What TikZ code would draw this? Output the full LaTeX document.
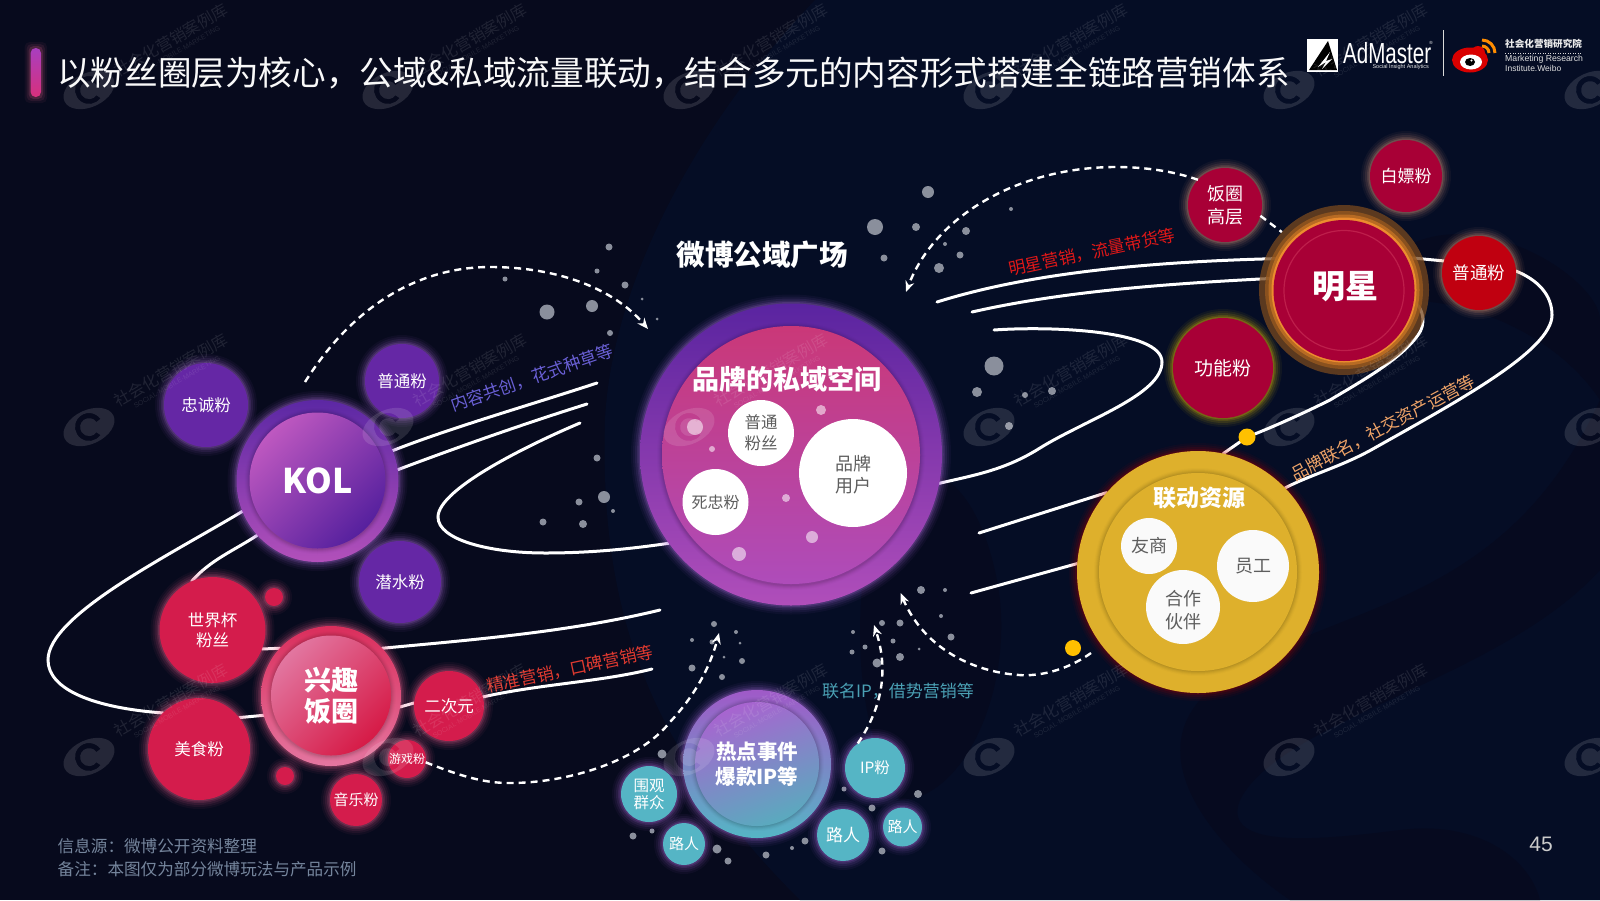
\documentclass[tikz,border=0pt]{standalone}
\usepackage{fontspec}
\setmainfont{Noto Sans CJK SC}
\newfontfamily\lat{Liberation Sans}
\usetikzlibrary{arrows.meta,shapes.geometric}
\pgfdeclarelayer{back}\pgfdeclarelayer{lines}\pgfsetlayers{back,lines,main}
\newcommand\fs[2]{\fontsize{#1}{#2}\selectfont}
\newcommand\glow[4]{\foreach \k/\o in {9/0.05,7/0.07,5/0.10,3/0.14,1.5/0.2}{\fill[#4,opacity=\o] (#1,#2) circle[radius={#3+\k}];}}
\newcommand\soft[3]{\foreach \k/\o in {5/0.015,4/0.025,3/0.035,2/0.045,1/0.055}{\fill[black,opacity=\o] (#1,#2) circle[radius={#3+\k}];}}
\definecolor{bgl}{HTML}{070A1D}
\definecolor{bgr}{HTML}{050D25}
\definecolor{bgd}{HTML}{060A1F}
\definecolor{pp}{HTML}{6527A5}
\definecolor{ppglow}{HTML}{A868D8}
\definecolor{rd}{HTML}{D41C4C}
\definecolor{rdglow}{HTML}{E8608C}
\definecolor{cr}{HTML}{A80036}
\definecolor{crglow}{HTML}{E8A080}
\definecolor{tl}{HTML}{55B5C5}
\definecolor{gd}{HTML}{DEB02C}
\definecolor{dotc}{HTML}{8A8F9C}
\definecolor{lblgrey}{HTML}{5E5E5E}
\definecolor{foot}{HTML}{75859C}
\definecolor{bart}{HTML}{A83EBF}
\definecolor{barb}{HTML}{D8307C}
\definecolor{kolot}{HTML}{5C28A4}
\definecolor{kolob}{HTML}{B250BA}
\definecolor{kolit}{HTML}{BE58C0}
\definecolor{kolib}{HTML}{56209E}
\definecolor{xqot}{HTML}{DA2E5C}
\definecolor{xqob}{HTML}{E476A0}
\definecolor{xqit}{HTML}{E276A0}
\definecolor{xqib}{HTML}{D61A46}
\definecolor{hubot}{HTML}{5A24A0}
\definecolor{huboba}{HTML}{B04EBA}
\definecolor{hubit}{HTML}{CA3878}
\definecolor{hubib}{HTML}{AE4CBA}
\definecolor{ptred}{HTML}{C00010}
\definecolor{halo}{HTML}{78481E}
\definecolor{haloa}{HTML}{96581E}
\definecolor{halob}{HTML}{BE6E24}
\definecolor{haloc}{HTML}{EC8C2E}
\definecolor{ringc}{HTML}{BE1E4B}
\definecolor{amber}{HTML}{FFC000}
\definecolor{hotot}{HTML}{A05AC8}
\definecolor{hotit}{HTML}{A864D0}
\definecolor{hotib}{HTML}{5AAABE}
\definecolor{capa}{HTML}{6A60D6}
\definecolor{capb}{HTML}{E01818}
\definecolor{capc}{HTML}{F0A468}
\definecolor{capd}{HTML}{E03A30}
\definecolor{cape}{HTML}{4AA0B4}
\tikzset{
  bub/.style={circle,inner sep=0pt,outer sep=0pt,align=center,text=white},
  wbub/.style={bub,fill=white,text=lblgrey},
  gbub/.style={bub,fill=white!96!gray,text=lblgrey},
  inlabel/.style={inner sep=0pt,align=center,text=lblgrey},
  curve/.style={draw=white,line width=3pt,line cap=round},
  dashline/.style={draw=white,line width=2.4pt,dash pattern=on 7pt off 5pt},
  dasharrow/.style={dashline,-{Stealth[length=11pt,width=9pt]}},
  caption/.style={inner sep=0pt,font=\fs{17}{20}},
  markerdot/.style={circle,fill=#1,inner sep=0pt,outer sep=0pt},
  wm/.style={white,opacity=.12},
}
\begin{document}
\begin{tikzpicture}[x=1pt,y=-1pt]
\useasboundingbox (0,0) rectangle (1600,900);
\begin{pgfonlayer}{back}
\fill[bgl] (0,0) rectangle (1600,900);
\fill[bgr] (815,0) .. controls (700,120) and (612,280) .. (605,420) .. controls (600,600) and (640,740) .. (800,900) -- (1600,900) -- (1600,0) -- cycle;
\fill[bgd] (1600,570) .. controls (1500,680) and (1280,720) .. (1240,800) .. controls (1220,850) and (1320,840) .. (1400,830) .. controls (1480,820) and (1530,860) .. (1540,900) -- (1290,900) .. controls (1230,860) and (1130,760) .. (1210,690) .. controls (1320,600) and (1500,620) .. (1600,400) -- cycle;
\fill[bgd] (880,480) .. controls (860,560) and (840,700) .. (900,800) .. controls (960,800) and (1010,700) .. (1000,600) .. controls (990,520) and (950,440) .. (880,480) -- cycle;
\fill[bgd] (1400,250) .. controls (1480,200) and (1600,280) .. (1600,320) -- (1600,400) .. controls (1560,340) and (1480,300) .. (1400,300) -- cycle;
\end{pgfonlayer}

% grey dots
\foreach \dx/\dy/\dr in {609/247/3.5,597/271/2.5,625/285/3.5,505/279/2.5,642/299/1.5,547/312/7.5,592/306/6,657/319/1.5,610/333/3,
928/192/6,875/227/8,916/227/4,966/231/4,1011/209/2,884/258/3.5,945/244/2,960/255/3.5,939/268/5,994/366/9.5,977/392/5,1025/395/3,1052/391/4,1009/426/4,
597/458/3.5,579/502/3.5,604/497/6,613/511/2,543/522/3.5,583/524/4,
714/624/3,736/632/2,692/640/2,712/642/2.5,740/643/1.5,724/657/1.5,742/661/3,692/668/3.5,722/677/3,
662/754/4.5,633/836/3.5,652/831/2.5,717/849/4.5,728/861/3.5,766/855/3.5,792/848/2,
921/590/4,945/590/2,941/616/2,951/637/3.5,882/623/3,900/623/3.5,853/632/2,893/641/2.5,865/647/2.5,852/652/2.5,919/649/1.5,900/657/4,877/663/4.5,844/789/2.5,918/794/4,872/808/3.5,882/851/3.5,805/841/3.5}
{\fill[dotc] (\dx,\dy) circle[radius=\dr];}

% title
\foreach \g/\o in {6/.06,4/.10,2/.18}{\fill[rounded corners=5pt,fill=rdglow,opacity=\o] (30.6-\g,48-\g) rectangle (41+\g,97+\g);}
\node[rounded corners=5pt,minimum width=10.4pt,minimum height=49pt,inner sep=0pt,top color=bart,bottom color=barb] (bar) at (35.8,72.5) {};
\node[anchor=west,inner sep=0pt,text=white!95!gray,font=\fs{33.6}{36}] (title) at (57,73) {以粉丝圈层为核心，公域\&私域流量联动，结合多元的内容形式搭建全链路营销体系};

% logos
\fill[white] (1307,39) rectangle (1338,72);
\fill[black] (1328,41) -- (1337,70) -- (1309,70) -- cycle;
\fill[white] (1330,52) -- (1318,67) -- (1326,62) -- (1322,69) -- (1332,59) -- (1326,61) -- cycle;
\node[anchor=west,inner sep=0pt,text=white,xscale=.71,font=\lat\fs{29}{30}] (adm) at (1343,53) {AdMaster};
\node[inner sep=0pt,text=white,font=\lat\fs{4.5}{5}] (adr) at (1431,43) {®};
\node[anchor=east,inner sep=0pt,text=white!80!gray,font=\lat\fs{5.5}{6}] (ads) at (1429,67) {Social Insight Analytics};
\draw[white!70!gray,line width=.7pt] (1443,30) -- (1443,76);
\fill[red!85!black] (1470,60) ellipse[x radius=18,y radius=12.5];
\fill[red!85!black] (1478,53) circle[radius=7];
\fill[white] (1471,62) ellipse[x radius=11,y radius=7.5];
\fill[black] (1470,62) ellipse[x radius=5,y radius=4];
\fill[white] (1471.5,60.5) circle[radius=1.2];
\draw[orange!90!yellow,line width=3pt] (1482,46) arc[start angle=270,end angle=360,radius=7];
\draw[orange!90!yellow,line width=3pt] (1482,40) arc[start angle=270,end angle=360,radius=13];
\node[anchor=west,inner sep=0pt,text=white!85!gray,font=\bfseries\fs{9.6}{11}] (wb1) at (1505,44) {社会化营销研究院};
\draw[white!70!gray,line width=.5pt,dotted] (1505,53) -- (1582,53);
\node[anchor=west,inner sep=0pt,text=white!75!gray,font=\lat\fs{8.7}{10}] (wb2) at (1505,59.5) {Marketing Research};
\node[anchor=west,inner sep=0pt,text=white!75!gray,font=\lat\fs{8.5}{10}] (wb3) at (1505,68.5) {Institute.Weibo};

% left purple group
\glow{206}{405}{42}{ppglow}
\node[bub,minimum size=84pt,fill=pp,font=\fs{16.5}{20}] (zhong) at (206,405) {忠诚粉};
\glow{402}{381}{37}{ppglow}
\node[bub,minimum size=74pt,fill=pp,font=\fs{16.5}{20}] (ptf) at (402,381) {普通粉};
\glow{400}{582}{41}{ppglow}
\node[bub,minimum size=82pt,fill=pp,font=\fs{16.5}{20}] (qian) at (400,582) {潜水粉};
\glow{317.5}{481}{81}{ppglow}
\node[bub,minimum size=162pt,top color=kolot,bottom color=kolob] (kol) at (317.5,481) {};
\soft{317.5}{481}{68}
\node[bub,minimum size=136pt,top color=kolit,bottom color=kolib,shading angle=45,font=\bfseries\fs{34}{38}] (kolin) at (317.5,480.5) {KOL};

% red group
\foreach \gx/\gy/\gr in {212.5/630/53,199/749/51,449/706/35,407/759/19,356/800/26,274/597/9,285/776/9}{\glow{\gx}{\gy}{\gr}{rdglow}}
\node[bub,minimum size=106pt,fill=rd,font=\fs{16.5}{20}] (sjb) at (212.5,630) {世界杯\\粉丝};
\node[bub,minimum size=102pt,fill=rd,font=\fs{16.5}{20}] (meishi) at (199,749) {美食粉};
\node[bub,minimum size=70pt,fill=rd,font=\fs{16.5}{20}] (ciyuan) at (449,706) {二次元};
\node[bub,minimum size=52pt,fill=rd,font=\fs{15}{18}] (yinyue) at (356,800) {音乐粉};
\node[bub,minimum size=18pt,fill=rd] (rdot1) at (274,597) {};
\node[bub,minimum size=18pt,fill=rd] (rdot2) at (285,776) {};
\glow{331}{696}{70}{rdglow}
\node[bub,minimum size=140pt,top color=xqot,bottom color=xqob] (xq) at (331,696) {};
\soft{331}{696}{60}
\node[bub,minimum size=120pt,top color=xqit,bottom color=xqib,shading angle=45,font=\bfseries\fs{27}{31}] (xqin) at (331,695.5) {兴趣\\饭圈};
\node[bub,minimum size=38pt,fill=rd,font=\fs{12}{14}] (youxi) at (407,759) {游戏粉};

% hub
\glow{791}{454.5}{151}{ppglow}
\node[bub,minimum size=302pt,top color=hubot,bottom color=huboba] (hub) at (791,454.5) {};
\soft{791}{456}{129}
\node[bub,minimum size=258pt,top color=hubit,bottom color=hubib] (hubin) at (791,455) {};
\node[inner sep=0pt,text=white,font=\bfseries\fs{27}{30}] (hubt) at (787,379) {品牌的私域空间};
\foreach \px/\py/\pr in {695/427/8,821/410/5,712/449/3,786/498/4,812/537/6,739/554/7}{\fill[white,opacity=.55] (\px,\py) circle[radius=\pr];}
\node[wbub,minimum size=66pt,font=\fs{16.5}{21}] (fans) at (761,433) {普通\\粉丝};
\node[wbub,minimum size=108pt] (brand) at (853,473) {};
\node[inlabel,font=\fs{18}{22}] (brandt) at (853,475) {品牌\\用户};
\node[wbub,minimum size=66pt,font=\fs{16}{20}] (sizhong) at (715.5,502) {死忠粉};
\node[inner sep=0pt,text=white,font=\bfseries\fs{28.5}{32}] (plaza) at (762,255) {微博公域广场};

% star group
\glow{1225}{205}{37}{crglow}
\node[bub,minimum size=74pt,fill=cr,font=\fs{18}{23}] (fq) at (1225,205) {饭圈\\高层};
\glow{1406}{176}{36}{crglow}
\node[bub,minimum size=72pt,fill=cr,font=\fs{17}{20}] (baipiao) at (1406,176) {白嫖粉};
\glow{1479}{273}{37}{crglow}
\node[bub,minimum size=74pt,fill=ptred,font=\fs{17.5}{20}] (ptr) at (1479,273) {普通粉};
\glow{1223}{368}{50}{yellow!70!orange}
\node[bub,minimum size=100pt,fill=cr,font=\fs{19}{22}] (gong) at (1223,368) {功能粉};
\node[bub,minimum size=170pt,fill=halo,fill opacity=.75] (star) at (1344,290) {};
\fill[haloa,opacity=.8] (1344,290) circle[radius=79];
\fill[halob,opacity=.9] (1344,290) circle[radius=75.5];
\fill[haloc] (1344,290) circle[radius=72.5];
\node[bub,minimum size=141pt,fill=cr] (starin) at (1344,290.5) {};
\draw[ringc,line width=1.2pt] (1344,290.5) circle[radius=60];
\node[inner sep=0pt,text=white,font=\bfseries\fs{33}{36}] (start) at (1345,287) {明星};

% linked resources
\glow{1198}{572}{120}{red!75!black}
\node[bub,minimum size=242pt,fill=gd] (lian) at (1198,572) {};
\soft{1198}{572}{99}
\node[bub,minimum size=198pt,fill=gd] (lianin) at (1198,572) {};
\node[inner sep=0pt,text=white,font=\bfseries\fs{23}{26}] (liant) at (1199,498) {联动资源};
\node[gbub,minimum size=56pt,font=\fs{18}{22}] (you) at (1149,546) {友商};
\node[gbub,minimum size=72pt,font=\fs{18}{22}] (yuan) at (1253,566) {员工};
\node[gbub,minimum size=74pt] (hez) at (1183,607) {};
\node[inlabel,font=\fs{18}{23.5}] (hezt) at (1183,610) {合作\\伙伴};
\node[markerdot=amber,minimum size=17pt] (ydot1) at (1247,437) {};
\node[markerdot=amber,minimum size=16pt] (ydot2) at (1073,648) {};

% hot events
\glow{757}{764}{74}{ppglow}
\node[bub,minimum size=148pt,top color=hotot,bottom color=tl] (hot) at (757,764) {};
\soft{757}{764}{62}
\node[bub,minimum size=124pt,top color=hotit,bottom color=hotib,shading angle=20,font=\bfseries\fs{20.5}{25}] (hotin) at (757,764) {热点事件\\爆款IP等};
\foreach \gx/\gy/\gr in {649/794/28,684/844/21,875/768/30,843/835/26,902.5/827/19.5}{\glow{\gx}{\gy}{\gr}{ppglow}}
\node[bub,minimum size=56pt,fill=tl,font=\fs{15.5}{17}] (wei) at (649,794) {围观\\群众};
\node[bub,minimum size=42pt,fill=tl,font=\fs{15}{18}] (lu1) at (684,844) {路人};
\node[bub,minimum size=60pt,fill=tl,font=\fs{15.5}{18}] (ip) at (875,768) {IP粉};
\node[bub,minimum size=52pt,fill=tl,font=\fs{17}{20}] (lu2) at (843,835) {路人};
\node[bub,minimum size=39pt,fill=tl,font=\fs{15}{18}] (lu3) at (902.5,827) {路人};

% free connector ends
\coordinate (la) at (597,383);
\coordinate (lb) at (587,404);
\coordinate (lc) at (580,423);
\coordinate (le) at (652,669);
\coordinate (lf) at (660,610);
\coordinate (ra) at (937,302);
\coordinate (rb) at (972,312);
\coordinate (rc) at (994,330);
\coordinate (rd1) at (979,533);
\coordinate (re) at (971,593);
\coordinate (dk) at (305,382);
\coordinate (dh1) at (648,329);
\coordinate (dh2) at (906,292);
\coordinate (dh3) at (719,633);
\coordinate (dh4) at (874,625);
\coordinate (dh5) at (900.5,593);
\coordinate (dl) at (1091,653);

\begin{pgfonlayer}{lines}
\draw[curve] (kol.22) .. controls (450,428) and (530,405) .. (la);
\draw[curve] (kol.8) .. controls (450,450) and (520,425) .. (lb);
\draw[curve] (lc) .. controls (535,442) and (438,488) .. (438,517) .. controls (438,540) and (490,553) .. (545,553) .. controls (590,553) and (630,549) .. (hub.216);
\draw[curve] (kol.202) .. controls (170,555) and (48,615) .. (48,660) .. controls (48,690) and (95,708) .. (meishi.135);
\draw[curve] (meishi.38) -- (xq.196);
\draw[curve] (xq.351) -- (ciyuan.175);
\draw[curve] (ciyuan.15) .. controls (540,684) and (600,682) .. (le);
\draw[curve] (kol.222) .. controls (235,550) and (210,560) .. (sjb.113);
\draw[curve] (sjb.-21) -- (xq.137);
\draw[curve] (xq.43) .. controls (470,640) and (570,632) .. (lf);
\draw[curve] (ra) .. controls (1020,276) and (1130,262) .. (starin.153);
\draw[curve] (rb) .. controls (1060,292) and (1160,284) .. (starin.170);
\draw[curve] (starin.28) -- (ptr.161);
\draw[curve] (ptr.3) .. controls (1538,280) and (1552,295) .. (1552,315) .. controls (1552,350) and (1460,400) .. (1371,450) .. controls (1340,467) and (1310,475) .. (lian.44);
\draw[curve] (rd1) -- (lian.139);
\draw[curve] (starin.-9) .. controls (1424,308) and (1426,325) .. (1418,335) .. controls (1400,360) and (1360,382) .. (1330,400) .. controls (1300,415) and (1270,428) .. (ydot1);
\draw[curve] (ydot1) -- (lian.78);
\draw[curve] (re) -- (lian.176);
\draw[curve] (rc) .. controls (1050,326) and (1162,330) .. (1162,362) .. controls (1162,395) and (1085,420) .. (1040,448) .. controls (1005,470) and (975,475) .. (hub.-11);
\end{pgfonlayer}

\draw[dasharrow] (dk) .. controls (360,295) and (430,267) .. (490,267) .. controls (560,267) and (615,290) .. (dh1);
\draw[dasharrow] (fq.137) .. controls (1170,170) and (1140,167) .. (1116,167) .. controls (1020,167) and (935,215) .. (dh2);
\draw[dashline] (fq.-17) -- (star.137);
\draw[dasharrow] (youxi.-10) .. controls (470,780) and (490,783) .. (510,783) .. controls (570,783) and (640,760) .. (670,722) .. controls (700,690) and (712,660) .. (dh3);
\draw[dasharrow] (ip.125) .. controls (875,718) and (892,680) .. (dh4);
\draw[dasharrow] (dl) .. controls (1060,675) and (1030,676) .. (1019,675) .. controls (975,672) and (925,650) .. (dh5);

% captions
\node[caption,rotate=19,text=capa] (c1) at (532,378) {内容共创，花式种草等};
\node[caption,rotate=12,text=capb] (c2) at (1092,252) {明星营销，流量带货等};
\node[caption,rotate=28,text=capc] (c3) at (1383,428) {品牌联名，社交资产运营等};
\node[caption,rotate=12,text=capd] (c4) at (570,669) {精准营销，口碑营销等};
\node[caption,text=cape] (c5) at (898,691) {联名IP，借势营销等};

% footer
\node[anchor=west,inner sep=0pt,text=foot,font=\fs{16.6}{19}] (f1) at (57.5,846.5) {信息源：微博公开资料整理};
\node[anchor=west,inner sep=0pt,text=foot,font=\fs{16.6}{19}] (f2) at (57.5,869) {备注：本图仅为部分微博玩法与产品示例};
\node[inner sep=0pt,text=white!60!gray,font=\lat\fs{21}{24}] (pg) at (1541,844) {45};

% watermark
\foreach \wx in {89,388,689,989,1289,1590}{\foreach \wy in {90,427,757}{
\begin{scope}[shift={(\wx,\wy)},rotate=25]
\fill[wm,even odd rule] (0,0) ellipse[x radius=27,y radius=17]
  (7,12.1) arc[start angle=60,end angle=350,radius=14] -- (8.9,-1.4) arc[start angle=350,end angle=60,radius=9] -- cycle;
\end{scope}}}
\foreach \wx in {89,388,689,989,1289}{\foreach \wy/\wo in {90/-50,427/-57,757/-57}{
\node[text=white,text opacity=.10,rotate=30,inner sep=0pt,font=\fs{16}{18}] (wmt\wx\wy) at ({\wx+82},{\wy+\wo}) {社会化营销案例库};
\node[text=white,text opacity=.10,rotate=30,inner sep=0pt,font=\lat\fs{7}{9}] (wms\wx\wy) at ({\wx+88},{\wy+\wo+12}) {SOCIAL·MOBILE·MARKETING};
}}
\end{tikzpicture}
\end{document}
